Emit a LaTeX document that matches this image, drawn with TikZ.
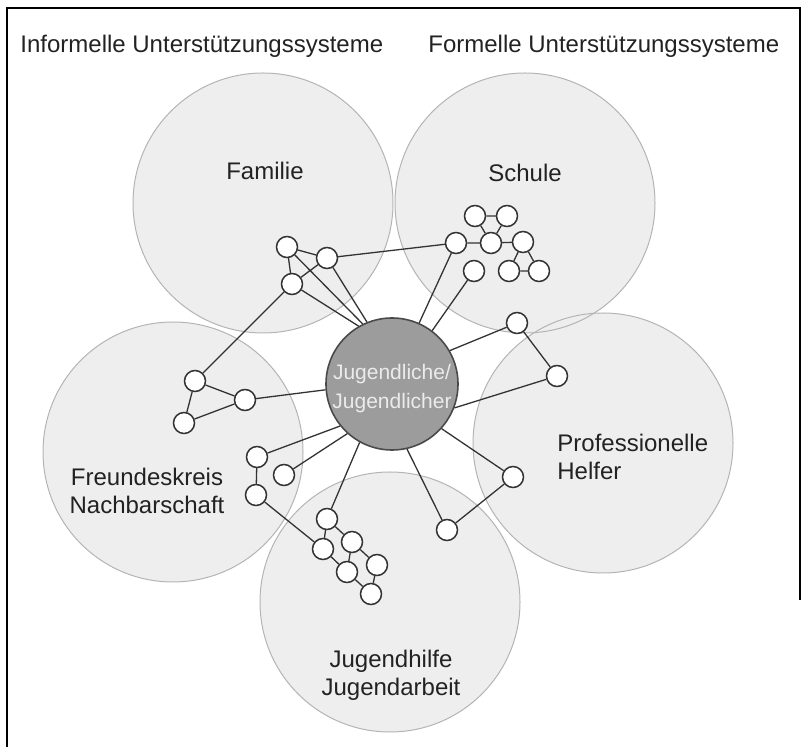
\documentclass[tikz,border=0pt]{standalone}
\usepackage{fontspec}
\setmainfont{Liberation Sans}
\definecolor{bigfill}{HTML}{EEEEEE}
\definecolor{bigedge}{HTML}{B4B4B4}
\definecolor{edgec}{HTML}{333333}
\definecolor{centfill}{HTML}{9C9C9C}
\definecolor{centedge}{HTML}{4A4A4A}
\definecolor{txt}{HTML}{222222}
\begin{document}
\begin{tikzpicture}[x=0.5pt,y=-0.5pt,
  bigc/.style={circle,minimum size=130pt,inner sep=0pt,fill=bigfill},
  sn/.style={circle,draw=edgec,fill=white,line width=0.75pt,minimum size=10.5pt,inner sep=0pt},
  ln/.style={draw=edgec,line width=0.65pt},
  lbl/.style={text=txt,font=\fontsize{12pt}{14pt}\selectfont,inner sep=0pt},
  frame/.style={draw=black,line width=1pt}]
\useasboundingbox (0,0) rectangle (803,747);
% frame
\coordinate (fa) at (7,747);
\coordinate (fb) at (7,8);
\coordinate (fc) at (800,8);
\coordinate (fd) at (800,600);
\draw[frame] (fa) -- (fb) -- (fc) -- (fd);
% big circles
\node[bigc] (fam) at (263,203) {};
\node[bigc] (sch) at (525,203) {};
\node[bigc] (fre) at (173,452) {};
\node[bigc] (pro) at (603,443) {};
\node[bigc] (jug) at (390,602) {};
\foreach \n in {fam,sch,fre,pro,jug}
  \draw[bigedge,line width=0.5pt] (\n.center) circle [radius=65pt];
% titles and labels
\node[lbl,anchor=base west] (t1) at (20,53) {Informelle Unterstützungssysteme};
\node[lbl,anchor=base west] (t2) at (428,53) {Formelle Unterstützungssysteme};
\node[lbl,anchor=base] (lfam) at (265,180) {Familie};
\node[lbl,anchor=base] (lsch) at (525,182) {Schule};
\node[lbl,align=center] (lfre) at (147,491) {Freundeskreis\\Nachbarschaft};
\node[lbl,align=left,anchor=west] (lpro) at (557,457) {Professionelle\\Helfer};
\node[lbl,align=center] (ljug) at (391,675) {Jugendhilfe\\Jugendarbeit};
% center
\node[circle,minimum size=66pt,inner sep=0pt,fill=centfill,draw=centedge,line width=0.8pt] (C) at (392,384) {};
\node[align=center,text=white!92!black,inner sep=0pt,font=\fontsize{10.5pt}{14.5pt}\selectfont] (ctext) at (392,389) {Jugendliche/\\Jugendlicher};
% small nodes
\node[sn] (A1) at (287,247) {};
\node[sn] (A2) at (327,258) {};
\node[sn] (A3) at (292,284) {};
\node[sn] (S1) at (456,243) {};
\node[sn] (S2) at (475,216) {};
\node[sn] (S3) at (507,216) {};
\node[sn] (S4) at (491,243) {};
\node[sn] (S5) at (523,242) {};
\node[sn] (S6) at (509,271) {};
\node[sn] (S7) at (539,271) {};
\node[sn] (S8) at (474,271) {};
\node[sn] (P1) at (517,323) {};
\node[sn] (P2) at (557,376) {};
\node[sn] (P3) at (513,477) {};
\node[sn] (P4) at (447,530) {};
\node[sn] (F1) at (195,381) {};
\node[sn] (F2) at (245,400) {};
\node[sn] (F3) at (184,423) {};
\node[sn] (F4) at (257,457) {};
\node[sn] (F5) at (284,475) {};
\node[sn] (F6) at (256,495) {};
\node[sn] (J1) at (327,519) {};
\node[sn] (J2) at (352,542) {};
\node[sn] (J3) at (323,549) {};
\node[sn] (J4) at (377,565) {};
\node[sn] (J5) at (347,572) {};
\node[sn] (J6) at (371,594) {};
% connectors
\path[ln] (A1) -- (A2) (A1) -- (A3) (A2) -- (A3)
  (A1) -- (C.116) (A2) -- (C.112) (A3) -- (C.120)
  (A2) -- (S1) (A3) -- (F1);
\path[ln] (S1) -- (S4) (S2) -- (S3) (S2) -- (S4) (S3) -- (S4)
  (S4) -- (S5) (S5) -- (S6) (S5) -- (S7) (S6) -- (S7)
  (S1) -- (C.66) (S8) -- (C.53);
\path[ln] (P1) -- (P2) (P1) -- (C.30) (P2) -- (C.-21)
  (P3) -- (P4) (P3) -- (C.-42) (P4) -- (C.-77);
\path[ln] (F1) -- (F2) (F1) -- (F3) (F3) -- (F2) (F2) -- (C.185)
  (F4) -- (C.219) (F5) -- (C.228) (F4) -- (F6) (F6) -- (J3);
\path[ln] (J1) -- (C.241) (J1) -- (J3) (J1) -- (J2) (J3) -- (J5)
  (J2) -- (J5) (J2) -- (J4) (J5) -- (J6) (J4) -- (J6);
\end{tikzpicture}
\end{document}
